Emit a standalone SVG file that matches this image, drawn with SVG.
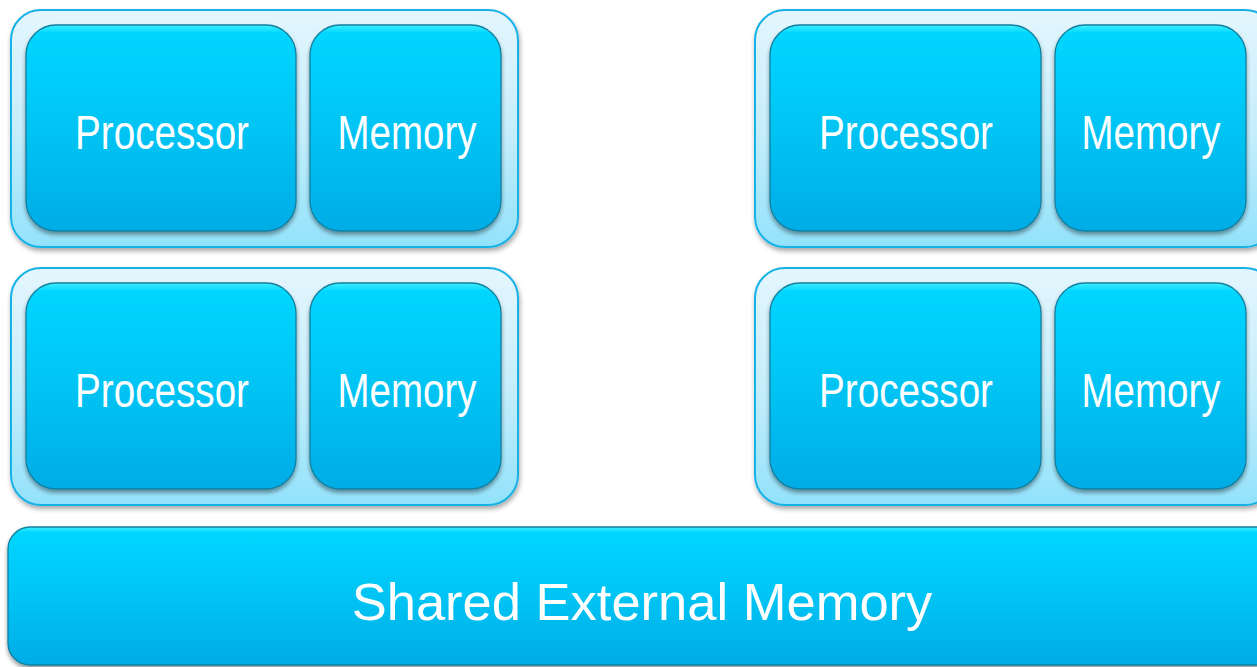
<svg xmlns="http://www.w3.org/2000/svg" width="1257" height="667" viewBox="0 0 1257 667">
<defs>
<linearGradient id="gOuter" x1="0" y1="0" x2="0" y2="1">
<stop offset="0" stop-color="#e4f6fd"/>
<stop offset="0.5" stop-color="#c6eefc"/>
<stop offset="1" stop-color="#92e2fb"/>
</linearGradient>
<linearGradient id="gInner" x1="0" y1="0" x2="0" y2="1">
<stop offset="0" stop-color="#3ff0ff"/>
<stop offset="0.04" stop-color="#00d6ff"/>
<stop offset="0.5" stop-color="#00c4f4"/>
<stop offset="1" stop-color="#00ace6"/>
</linearGradient>
<filter id="shOuter" x="-5%" y="-5%" width="110%" height="115%">
<feGaussianBlur in="SourceAlpha" stdDeviation="2.5"/>
<feOffset dx="1" dy="3" result="b"/>
<feComponentTransfer><feFuncA type="linear" slope="0.35"/></feComponentTransfer>
<feMerge><feMergeNode/><feMergeNode in="SourceGraphic"/></feMerge>
</filter>
<filter id="shInner" x="-5%" y="-5%" width="110%" height="115%">
<feGaussianBlur in="SourceAlpha" stdDeviation="2"/>
<feOffset dx="0" dy="3" result="b"/>
<feComponentTransfer><feFuncA type="linear" slope="0.4"/></feComponentTransfer>
<feMerge><feMergeNode/><feMergeNode in="SourceGraphic"/></feMerge>
</filter>
</defs>
<style>
.outer{fill:url(#gOuter);stroke:#19b2e6;stroke-width:2;filter:url(#shOuter)}
.inner{fill:url(#gInner);stroke:#137f9e;stroke-width:1.3;filter:url(#shInner)}
.lbl{font-family:"Liberation Sans",Arial,sans-serif;font-size:49px;fill:#ffffff;text-anchor:middle}
.big{font-family:"Liberation Sans",Arial,sans-serif;font-size:52.5px;fill:#ffffff;text-anchor:middle}
</style>
<g id="node-tl">
<rect class="outer" x="11" y="10" width="507" height="237" rx="30"/>
<rect class="inner" x="26" y="25" width="270" height="206" rx="30"/>
<rect class="inner" x="310" y="25" width="191" height="206" rx="30"/>
<text class="lbl" x="162" y="149" textLength="174" lengthAdjust="spacingAndGlyphs">Processor</text>
<text class="lbl" x="407" y="149" textLength="139" lengthAdjust="spacingAndGlyphs">Memory</text>
</g>
<g id="node-bl">
<rect class="outer" x="11" y="268" width="507" height="237" rx="30"/>
<rect class="inner" x="26" y="283" width="270" height="206" rx="30"/>
<rect class="inner" x="310" y="283" width="191" height="206" rx="30"/>
<text class="lbl" x="162" y="407" textLength="174" lengthAdjust="spacingAndGlyphs">Processor</text>
<text class="lbl" x="407" y="407" textLength="139" lengthAdjust="spacingAndGlyphs">Memory</text>
</g>
<g id="node-tr">
<rect class="outer" x="755" y="10" width="520" height="237" rx="30"/>
<rect class="inner" x="770" y="25" width="271" height="206" rx="30"/>
<rect class="inner" x="1055" y="25" width="191" height="206" rx="30"/>
<text class="lbl" x="906" y="149" textLength="174" lengthAdjust="spacingAndGlyphs">Processor</text>
<text class="lbl" x="1151" y="149" textLength="139" lengthAdjust="spacingAndGlyphs">Memory</text>
</g>
<g id="node-br">
<rect class="outer" x="755" y="268" width="520" height="237" rx="30"/>
<rect class="inner" x="770" y="283" width="271" height="206" rx="30"/>
<rect class="inner" x="1055" y="283" width="191" height="206" rx="30"/>
<text class="lbl" x="906" y="407" textLength="174" lengthAdjust="spacingAndGlyphs">Processor</text>
<text class="lbl" x="1151" y="407" textLength="139" lengthAdjust="spacingAndGlyphs">Memory</text>
</g>
<g id="node-shared">
<rect class="inner" x="8" y="527" width="1270" height="138" rx="22"/>
<text class="big" x="642" y="620">Shared External Memory</text>
</g>
<g id="connectors"/>
</svg>
